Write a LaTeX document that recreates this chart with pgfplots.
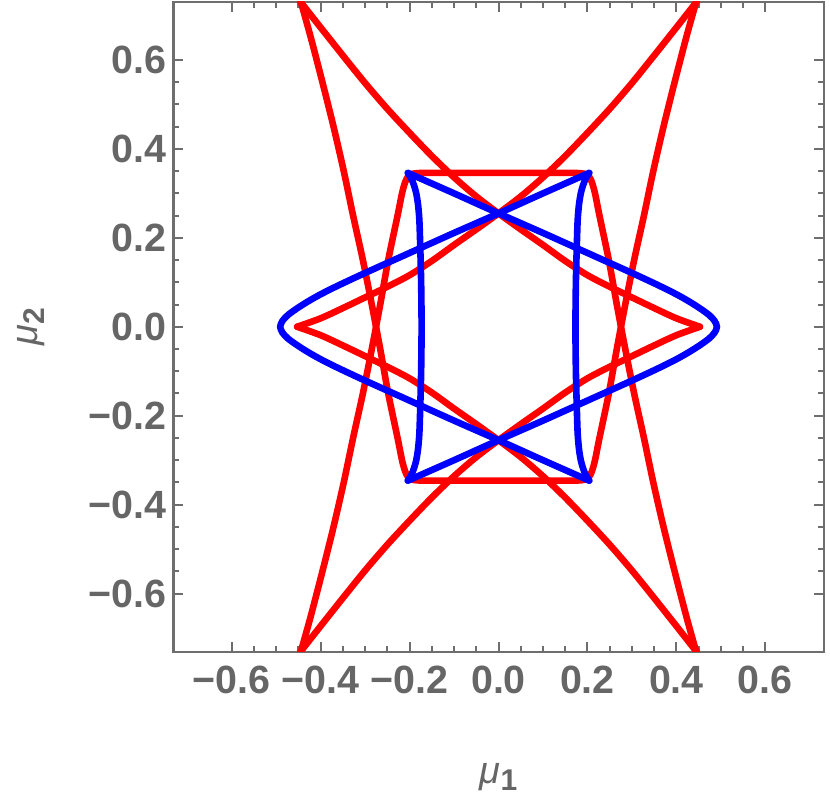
\documentclass[border=0pt]{standalone}
\usepackage{fontspec}
\setmainfont{Liberation Sans}
\usepackage{pgfplots}
\pgfplotsset{compat=1.18}
\definecolor{framegray}{HTML}{6E6E6E}
\definecolor{labgray}{HTML}{666666}
\begin{document}
\begin{tikzpicture}
\begin{axis}[name=ax,
 scale only axis, width=325pt, height=325pt,
 xmin=-0.731, xmax=0.731, ymin=-0.731, ymax=0.731,
 xtick={-0.6,-0.4,-0.2,0,0.2,0.4,0.6},
 xticklabels={−0.6,−0.4,−0.2,0.0,0.2,0.4,0.6},
 ytick={-0.6,-0.4,-0.2,0,0.2,0.4,0.6},
 yticklabels={−0.6,−0.4,−0.2,0.0,0.2,0.4,0.6},
 minor tick num=3,
 tick align=inside,
 major tick length=5pt, minor tick length=3pt,
 axis line style={framegray, line width=1.1pt},
 major tick style={framegray, line width=1pt},
 minor tick style={framegray, line width=1pt},
 tick label style={labgray, font=\fontsize{19.7}{20}\selectfont\bfseries},
 xticklabel style={yshift=-3.5pt},
 clip=true,
]
% red curves A
\addplot[red, line width=3.3pt, line cap=round, line join=round, smooth, tension=0.5] coordinates {
(-0.445,0.733) (-0.444,0.729) (-0.422,0.65) (-0.396,0.55) (-0.371,0.45) (-0.348,0.35) (-0.327,0.25) (-0.305,0.15) (-0.285,0.05) (-0.266,-0.05) (-0.248,-0.15) (-0.227,-0.25) (-0.217,-0.30) (-0.210,-0.325) (-0.204,-0.337) (-0.197,-0.343) (-0.187,-0.345) (-0.17,-0.346) (-0.14,-0.346) (-0.09,-0.346) (-0.03,-0.346) (0.03,-0.346) (0.09,-0.346) (0.14,-0.346) (0.17,-0.346) (0.187,-0.345) (0.197,-0.343) (0.204,-0.337) (0.210,-0.325) (0.217,-0.30) (0.227,-0.25) (0.248,-0.15) (0.266,-0.05) (0.285,0.05) (0.305,0.15) (0.327,0.25) (0.348,0.35) (0.371,0.45) (0.396,0.55) (0.422,0.65) (0.444,0.729) (0.445,0.733)};
\addplot[red, line width=3.3pt, line cap=round, line join=round, smooth, tension=0.5] coordinates {
(-0.445,-0.733) (-0.444,-0.729) (-0.422,-0.65) (-0.396,-0.55) (-0.371,-0.45) (-0.348,-0.35) (-0.327,-0.25) (-0.305,-0.15) (-0.285,-0.05) (-0.266,0.05) (-0.248,0.15) (-0.227,0.25) (-0.217,0.30) (-0.210,0.325) (-0.204,0.337) (-0.197,0.343) (-0.187,0.345) (-0.17,0.346) (-0.14,0.346) (-0.09,0.346) (-0.03,0.346) (0.03,0.346) (0.09,0.346) (0.14,0.346) (0.17,0.346) (0.187,0.345) (0.197,0.343) (0.204,0.337) (0.210,0.325) (0.217,0.30) (0.227,0.25) (0.248,0.15) (0.266,0.05) (0.285,-0.05) (0.305,-0.15) (0.327,-0.25) (0.348,-0.35) (0.371,-0.45) (0.396,-0.55) (0.422,-0.65) (0.444,-0.729) (0.445,-0.733)};
% red curves B
\addplot[red, line width=3.3pt, line cap=round, smooth, tension=0.5] coordinates {
(-0.447,0.733) (-0.444,0.729) (-0.40,0.673) (-0.35,0.610) (-0.30,0.548) (-0.25,0.490) (-0.20,0.436) (-0.15,0.384) (-0.10,0.336) (-0.05,0.293) (0.00,0.255) (0.05,0.219) (0.10,0.184) (0.15,0.148) (0.20,0.116) (0.25,0.090) (0.30,0.066) (0.35,0.042) (0.40,0.019) (0.453,0.0)};
\addplot[red, line width=3.3pt, line cap=round, smooth, tension=0.5] coordinates {
(0.453,0.0) (0.40,-0.019) (0.35,-0.042) (0.30,-0.066) (0.25,-0.090) (0.20,-0.116) (0.15,-0.148) (0.10,-0.184) (0.05,-0.219) (0.00,-0.255) (-0.05,-0.293) (-0.10,-0.336) (-0.15,-0.384) (-0.20,-0.436) (-0.25,-0.490) (-0.30,-0.548) (-0.35,-0.610) (-0.40,-0.673) (-0.444,-0.729) (-0.447,-0.733)};
\addplot[red, line width=3.3pt, line cap=round, smooth, tension=0.5] coordinates {
(0.447,0.733) (0.444,0.729) (0.40,0.673) (0.35,0.610) (0.30,0.548) (0.25,0.490) (0.20,0.436) (0.15,0.384) (0.10,0.336) (0.05,0.293) (0.00,0.255) (-0.05,0.219) (-0.10,0.184) (-0.15,0.148) (-0.20,0.116) (-0.25,0.090) (-0.30,0.066) (-0.35,0.042) (-0.40,0.019) (-0.453,0.0)};
\addplot[red, line width=3.3pt, line cap=round, smooth, tension=0.5] coordinates {
(-0.453,0.0) (-0.40,-0.019) (-0.35,-0.042) (-0.30,-0.066) (-0.25,-0.090) (-0.20,-0.116) (-0.15,-0.148) (-0.10,-0.184) (-0.05,-0.219) (0.00,-0.255) (0.05,-0.293) (0.10,-0.336) (0.15,-0.384) (0.20,-0.436) (0.25,-0.490) (0.30,-0.548) (0.35,-0.610) (0.40,-0.673) (0.444,-0.729) (0.447,-0.733)};
% blue left loop
\addplot[blue, line width=3.3pt, line cap=round, smooth, tension=0.5] coordinates {
(-0.204,-0.346) (-0.10,-0.300) (0.0,-0.255) (0.10,-0.211) (0.20,-0.166) (0.30,-0.121) (0.36,-0.093) (0.40,-0.073) (0.43,-0.056) (0.455,-0.040) (0.474,-0.026) (0.486,-0.013) (0.491,0) (0.486,0.013) (0.474,0.026) (0.455,0.040) (0.43,0.056) (0.40,0.073) (0.36,0.093) (0.30,0.121) (0.20,0.166) (0.10,0.211) (0.0,0.255) (-0.10,0.300) (-0.204,0.346)};
\addplot[blue, line width=3.3pt, line cap=round, smooth, tension=0.5] coordinates {
(-0.204,0.346) (-0.196,0.333) (-0.190,0.318) (-0.185,0.300) (-0.181,0.275) (-0.178,0.24) (-0.176,0.18) (-0.174,0.10) (-0.173,0) (-0.174,-0.10) (-0.176,-0.18) (-0.178,-0.24) (-0.181,-0.275) (-0.185,-0.300) (-0.190,-0.318) (-0.196,-0.333) (-0.204,-0.346)};
% blue right loop
\addplot[blue, line width=3.3pt, line cap=round, smooth, tension=0.5] coordinates {
(0.204,-0.346) (0.10,-0.300) (0.0,-0.255) (-0.10,-0.211) (-0.20,-0.166) (-0.30,-0.121) (-0.36,-0.093) (-0.40,-0.073) (-0.43,-0.056) (-0.455,-0.040) (-0.474,-0.026) (-0.486,-0.013) (-0.491,0) (-0.486,0.013) (-0.474,0.026) (-0.455,0.040) (-0.43,0.056) (-0.40,0.073) (-0.36,0.093) (-0.30,0.121) (-0.20,0.166) (-0.10,0.211) (0.0,0.255) (0.10,0.300) (0.204,0.346)};
\addplot[blue, line width=3.3pt, line cap=round, smooth, tension=0.5] coordinates {
(0.204,0.346) (0.196,0.333) (0.190,0.318) (0.185,0.300) (0.181,0.275) (0.178,0.24) (0.176,0.18) (0.174,0.10) (0.173,0) (0.174,-0.10) (0.176,-0.18) (0.178,-0.24) (0.181,-0.275) (0.185,-0.300) (0.190,-0.318) (0.196,-0.333) (0.204,-0.346)};
\end{axis}
\node[anchor=base, labgray, inner sep=0pt] at ([yshift=-65.6pt]ax.south) {{\fontsize{19}{19}\selectfont\itshape μ}{\fontsize{15}{15}\selectfont\bfseries\raisebox{-3.5pt}{1}}};
\node[anchor=base, labgray, rotate=90, inner sep=0pt] at ([xshift=-68pt]ax.west) {{\fontsize{19}{19}\selectfont\itshape μ}{\fontsize{15}{15}\selectfont\bfseries\raisebox{-3.5pt}{2}}};
\pgfresetboundingbox
\path[use as bounding box] ([xshift=-86.7pt,yshift=-74.65pt]ax.south west) rectangle ([xshift=3.2pt,yshift=0.85pt]ax.north east);
\end{tikzpicture}
\end{document}
